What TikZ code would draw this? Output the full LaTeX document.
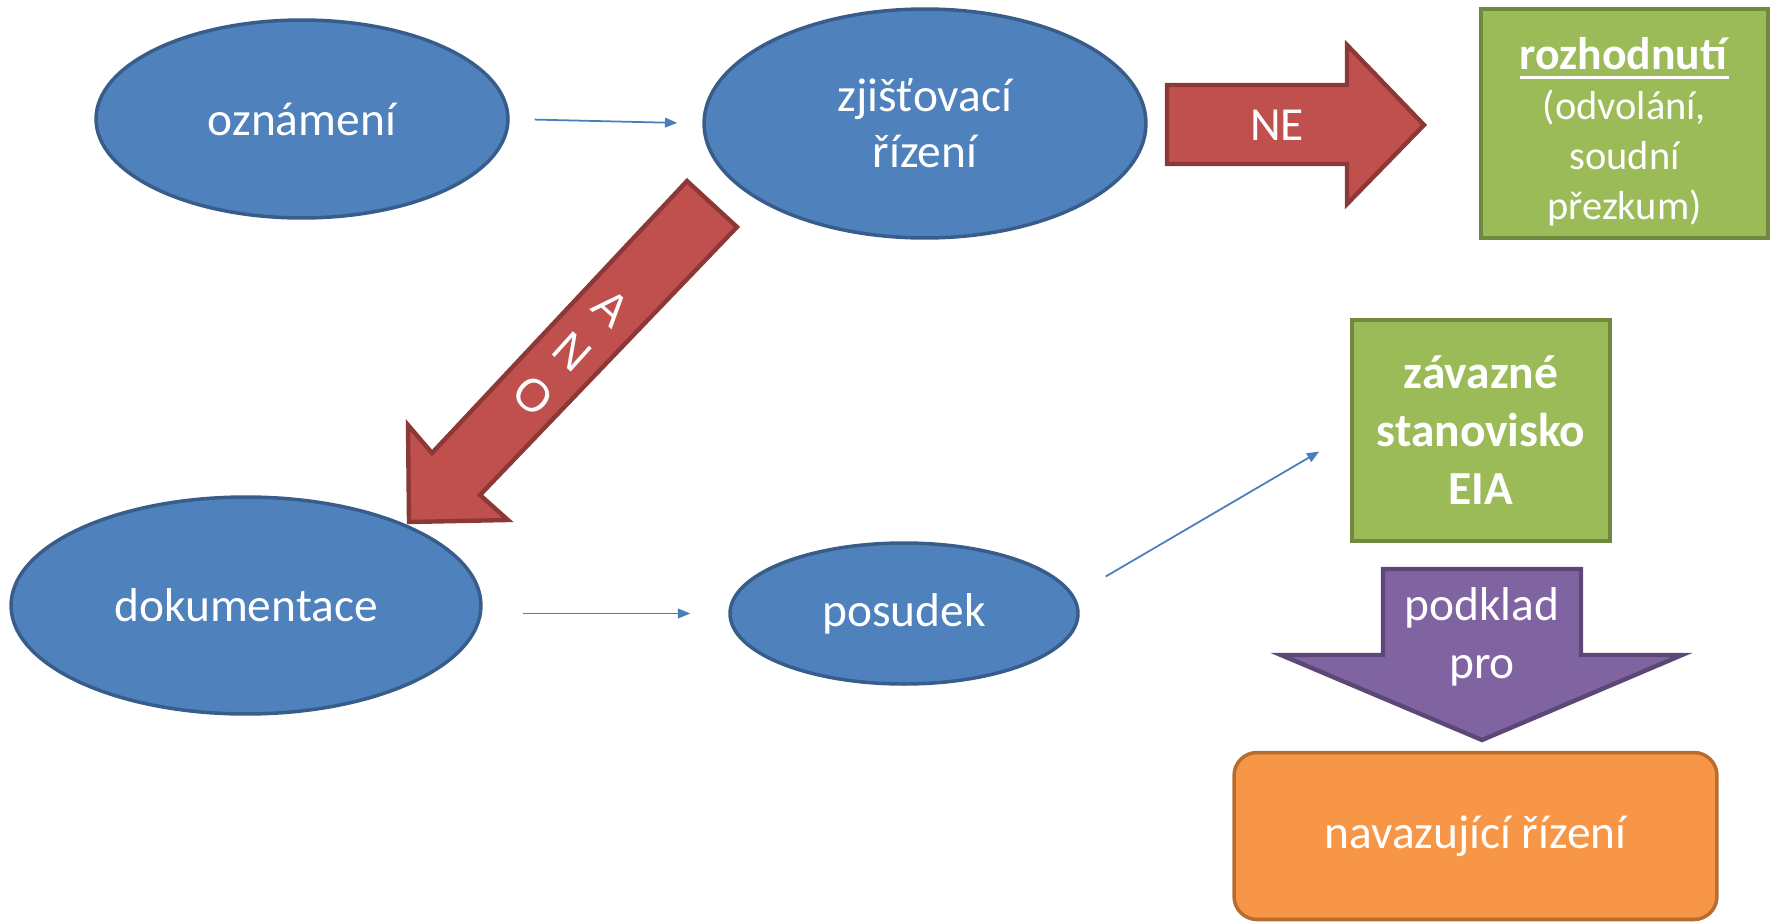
\documentclass[tikz,border=0pt]{standalone}
\usepackage{fontspec}
\setmainfont{Carlito}
\newfontfamily\anofont{Liberation Sans}
\usepackage{xcolor}
\usepackage{tikz}
\usetikzlibrary{calc}
\usetikzlibrary{shapes.geometric}
\usetikzlibrary{arrows.meta}
\definecolor{blueFill}{HTML}{4F81BD}
\definecolor{blueLine}{HTML}{385D8A}
\definecolor{redFill}{HTML}{C0504D}
\definecolor{redLine}{HTML}{8C3836}
\definecolor{greenFill}{HTML}{9BBB59}
\definecolor{greenLine}{HTML}{71893F}
\definecolor{purpleFill}{HTML}{8064A2}
\definecolor{purpleLine}{HTML}{5C4776}
\definecolor{orangeFill}{HTML}{F79646}
\definecolor{orangeLine}{HTML}{B66D31}
\definecolor{thinBlue}{HTML}{4A7EBB}
\def\thickul#1{\setbox0=\hbox{#1}\leavevmode\rlap{\rule[-5pt]{\wd0}{1.6pt}}\box0}
\tikzset{
	oval/.style={ellipse,draw=blueLine,fill=blueFill,line width=2pt,text=white,align=center,inner sep=0pt},
	greenbox/.style={rectangle,draw=greenLine,fill=greenFill,line width=2pt,text=white,align=center},
	thinarrow/.style={draw=thinBlue,line width=1pt,-{Triangle[length=7pt,width=5.5pt]}},
	fatarrow/.style={line width=2.5pt,line join=miter}
}

\begin{document}
\begin{tikzpicture}[x=0.02cm,y=-0.02cm,font=\fontsize{27}{32}\selectfont]
					\useasboundingbox (0,0) rectangle (1775,923);
					\node[oval,minimum width=8.24cm,minimum height=3.96cm] (ozn) at (302,119) {oznámení};
					\node[oval,minimum width=8.84cm,minimum height=4.58cm] (zji) at (925,123.5) {zjišťovací\\řízení};
					\node[oval,minimum width=9.4cm,minimum height=4.34cm] (dok) at (246,605.5) {dokumentace};
					\node[oval,minimum width=6.96cm,minimum height=2.82cm] (pos) at (904,613.5) {posudek};
					\node[greenbox,minimum width=5.74cm,minimum height=4.58cm,font=\fontsize{23}{28.5}\selectfont] (roz) at (1624.5,123.5)
						{\fontsize{26}{28.5}\selectfont\rule{0pt}{28pt}\thickul{\textbf{rozhodnutí}}\\(odvolání,\\soudní\\přezkum)};
					\node[greenbox,minimum width=5.16cm,minimum height=4.42cm,font=\fontsize{27}{33}\selectfont\bfseries] (zav) at (1481,430.5) {závazné\\stanovisko\\EIA};
					\node[rectangle,rounded corners=0.46cm,draw=orangeLine,fill=orangeFill,line width=2pt,text=white,minimum width=9.66cm,minimum height=3.34cm] (nav) at (1475.5,836) {navazující řízení};
					\draw[thinarrow,shorten <=0.5cm,shorten >=0.5cm] (ozn.east) -- (zji.west);
					\draw[thinarrow,shorten <=0.8cm,shorten >=0.76cm] (dok.east |- pos.west) -- (pos.west);
					\draw[thinarrow] ($(pos.east)+(26,-37)$) -- ($(zav.west)+(-31,21)$);
					\filldraw[fatarrow,fill=redFill,draw=redLine] (1167,85) -- (1347,85) -- (1347,45) -- (1424,125) -- (1347,204) -- (1347,164) -- (1167,164) -- cycle;
					\node[text=white] (ne) at (1277,125) {NE};
					\filldraw[fatarrow,fill=redFill,draw=redLine] (687,181) -- (737,227) -- (480,495) -- (508,520) -- (409,522) -- (408,425) -- (432,453) -- cycle;
					\node[text=white,rotate=-42,align=center,font=\anofont\fontsize{26}{33.5}\selectfont] (ano) at (572,352) {A\\N\\O};
					\filldraw[fatarrow,fill=purpleFill,draw=purpleLine] (1383,569) -- (1581,569) -- (1581,655) -- (1682,655) -- (1482,740) -- (1281,655) -- (1383,655) -- cycle;
					\node[text=white,align=center,font=\fontsize{27}{33}\selectfont] (pod) at (1482,637) {podklad\\pro};
				\end{tikzpicture}
\end{document}
